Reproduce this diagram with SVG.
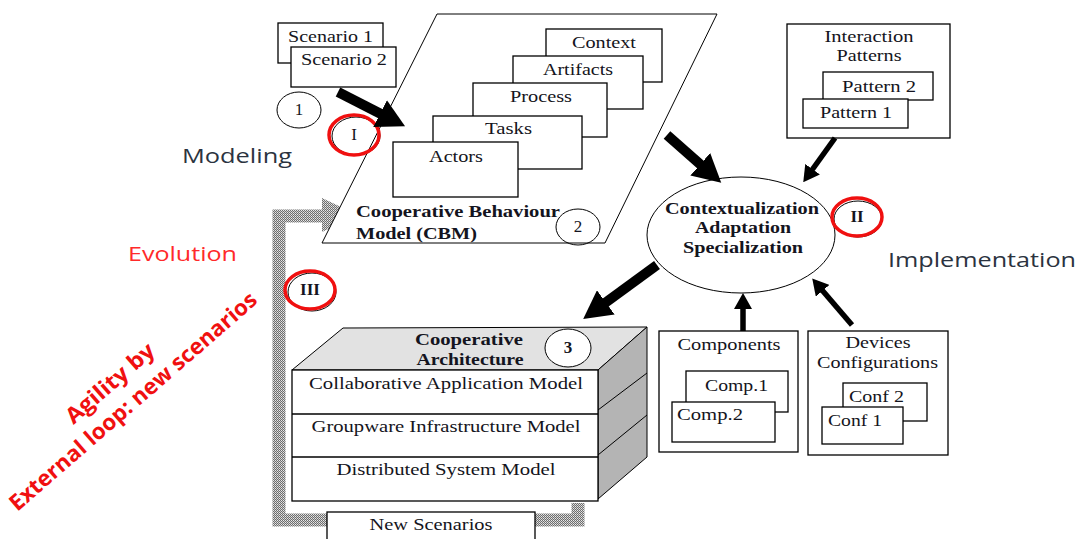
<svg xmlns="http://www.w3.org/2000/svg" width="1086" height="539" viewBox="0 0 1086 539">
<style>
.t{font-family:"Liberation Serif","Times New Roman",serif;font-size:17px;fill:#141420}
.b{font-weight:bold}
.m{text-anchor:middle}
.box{fill:#fff;stroke:#000;stroke-width:1.3}
.circ{fill:none;stroke:#000;stroke-width:1}
.red{fill:none;stroke:#f01010;stroke-width:3.5}
.s{font-family:"Open Sans","Noto Sans",sans-serif;font-size:20px}
.thick{stroke:#000;stroke-width:10;fill:none}
.med{stroke:#000;stroke-width:5.5;fill:none}
</style>
<defs>
<pattern id="chk" width="2" height="2" patternUnits="userSpaceOnUse">
<rect width="2" height="2" fill="#6e6e6e"/>
<rect x="1" y="0" width="1" height="1" fill="#e8e8e8"/>
<rect x="0" y="1" width="1" height="1" fill="#c8c8c8"/>
</pattern>
<marker id="hb" viewBox="0 0 28 30" markerWidth="28" markerHeight="30" refX="1" refY="15" orient="auto" markerUnits="userSpaceOnUse">
<path d="M0,0 L28,15 L0,30 Z" fill="#000"/>
</marker>
<marker id="hm" viewBox="0 0 16 18" markerWidth="16" markerHeight="18" refX="1" refY="9" orient="auto" markerUnits="userSpaceOnUse">
<path d="M0,0 L16,9 L0,18 Z" fill="#000"/>
</marker>
</defs>
<rect width="1086" height="539" fill="#fff"/>

<!-- external loop -->
<g id="loop">
<path d="M578,503 L578,520 L279,520 L279,216 L327,216" fill="none" stroke="url(#chk)" stroke-width="13"/>
<path d="M322,198 L358,215 L322,232 Z" fill="url(#chk)"/>
</g>

<!-- side labels -->
<g id="labels">
<text class="s" x="182" y="163" fill="#2b3340" textLength="110" lengthAdjust="spacingAndGlyphs">Modeling</text>
<text class="s" x="128" y="261" fill="#ff2a2a" textLength="109" lengthAdjust="spacingAndGlyphs">Evolution</text>
<text class="s" x="888" y="267" fill="#2b3340" textLength="188" lengthAdjust="spacingAndGlyphs">Implementation</text>
<g fill="#f01010" font-family="Open Sans, Noto Sans, sans-serif" font-weight="bold" font-size="22" text-anchor="middle">
<text transform="translate(115,389) rotate(-41)" textLength="110" lengthAdjust="spacingAndGlyphs">Agility by</text>
<text transform="translate(138,407) rotate(-41)" textLength="320" lengthAdjust="spacingAndGlyphs">External loop: new scenarios</text>
</g>
</g>

<!-- scenarios -->
<g id="scenarios">
<rect class="box" x="278" y="23" width="105" height="40"/>
<text class="t" x="288" y="42" textLength="85" lengthAdjust="spacingAndGlyphs">Scenario 1</text>
<rect class="box" x="291" y="47" width="105" height="40"/>
<text class="t" x="301" y="65" textLength="86" lengthAdjust="spacingAndGlyphs">Scenario 2</text>
<ellipse class="circ" cx="299" cy="110" rx="22" ry="18"/>
<text class="t m" x="299" y="115" font-size="14">1</text>
</g>

<!-- CBM -->
<g id="cbm">
<polygon points="437,14 717,14 605,243 322,243" fill="#fff" stroke="#000" stroke-width="1"/>
<rect class="box" x="546" y="29" width="116" height="53"/>
<text class="t" x="572" y="48" textLength="64" lengthAdjust="spacingAndGlyphs">Context</text>
<rect class="box" x="513" y="56" width="130" height="53"/>
<text class="t" x="543" y="75" textLength="70" lengthAdjust="spacingAndGlyphs">Artifacts</text>
<rect class="box" x="473" y="83" width="134" height="54"/>
<text class="t" x="510" y="102" textLength="62" lengthAdjust="spacingAndGlyphs">Process</text>
<rect class="box" x="433" y="116" width="149" height="53"/>
<text class="t" x="485" y="134" textLength="47" lengthAdjust="spacingAndGlyphs">Tasks</text>
<rect class="box" x="393" y="142" width="125" height="55"/>
<text class="t" x="429" y="162" textLength="54" lengthAdjust="spacingAndGlyphs">Actors</text>
<text class="t b" x="356" y="217" font-size="18" textLength="204" lengthAdjust="spacingAndGlyphs">Cooperative Behaviour</text>
<text class="t b" x="356" y="239" font-size="18" textLength="121" lengthAdjust="spacingAndGlyphs">Model (CBM)</text>
<ellipse class="circ" cx="578" cy="227" rx="22" ry="18"/>
<text class="t m" x="578" y="232" font-size="14">2</text>
</g>

<!-- phase markers -->
<g id="phaseI">
<ellipse class="circ" cx="356" cy="136" rx="24" ry="19"/>
<ellipse class="red" cx="354" cy="135" rx="25" ry="20"/>
<text class="t m" x="354" y="140" font-size="14">I</text>
</g>

<!-- central ellipse -->
<g id="adapt">
<ellipse cx="741" cy="235" rx="94" ry="58" fill="#fff" stroke="#000" stroke-width="1"/>
<text class="t b m" x="742" y="214" textLength="154" lengthAdjust="spacingAndGlyphs">Contextualization</text>
<text class="t b m" x="743" y="233" textLength="96" lengthAdjust="spacingAndGlyphs">Adaptation</text>
<text class="t b m" x="743" y="253" textLength="120" lengthAdjust="spacingAndGlyphs">Specialization</text>
</g>
<g id="phaseII">
<ellipse class="circ" cx="858" cy="219" rx="24" ry="18"/>
<ellipse class="red" cx="857" cy="217" rx="25" ry="19"/>
<text class="t b m" x="857" y="222" font-size="13">II</text>
</g>

<!-- interaction patterns -->
<g id="patterns">
<rect class="box" x="787" y="24" width="163" height="114"/>
<text class="t m" x="869" y="42" textLength="89" lengthAdjust="spacingAndGlyphs">Interaction</text>
<text class="t m" x="869" y="61" textLength="65" lengthAdjust="spacingAndGlyphs">Patterns</text>
<rect class="box" x="823" y="72" width="110" height="28"/>
<text class="t" x="842" y="92" textLength="74" lengthAdjust="spacingAndGlyphs">Pattern 2</text>
<rect class="box" x="803" y="99" width="105" height="29"/>
<text class="t" x="820" y="118" textLength="72" lengthAdjust="spacingAndGlyphs">Pattern 1</text>
</g>

<!-- cooperative architecture -->
<g id="arch">
<polygon points="292,370 343,328 647,327 598,370" fill="#e2e2e2" stroke="#000" stroke-width="1"/>
<polygon points="598,370 647,327 647,457 598,499" fill="#b4b4b4" stroke="#000" stroke-width="1"/>
<line x1="598" y1="410" x2="647" y2="373" stroke="#000" stroke-width="1"/>
<line x1="598" y1="455" x2="647" y2="415" stroke="#000" stroke-width="1"/>
<rect class="box" x="292" y="370" width="306" height="131"/>
<line x1="292" y1="414" x2="598" y2="414" stroke="#000" stroke-width="1.3"/>
<line x1="292" y1="457" x2="598" y2="457" stroke="#000" stroke-width="1.3"/>
<text class="t b m" x="469" y="345" textLength="108" lengthAdjust="spacingAndGlyphs">Cooperative</text>
<text class="t b m" x="470" y="365" textLength="107" lengthAdjust="spacingAndGlyphs">Architecture</text>
<ellipse cx="568" cy="348" rx="23" ry="19" fill="#fff" stroke="#000" stroke-width="1"/>
<text class="t b m" x="568" y="353" font-size="14">3</text>
<text class="t m" x="446" y="389" textLength="274" lengthAdjust="spacingAndGlyphs">Collaborative Application Model</text>
<text class="t m" x="446" y="432" textLength="269" lengthAdjust="spacingAndGlyphs">Groupware Infrastructure Model</text>
<text class="t m" x="446" y="475" textLength="219" lengthAdjust="spacingAndGlyphs">Distributed System Model</text>
</g>

<g id="newScenarios">
<rect class="box" x="327" y="512" width="208" height="30"/>
<text class="t m" x="431" y="530" textLength="123" lengthAdjust="spacingAndGlyphs">New Scenarios</text>
</g>

<g id="phaseIII">
<ellipse class="circ" cx="312" cy="292" rx="24" ry="19"/>
<ellipse class="red" cx="310" cy="290" rx="25" ry="19"/>
<text class="t b m" x="310" y="295" font-size="13">III</text>
</g>

<!-- components -->
<g id="components">
<rect class="box" x="659" y="331" width="139" height="121"/>
<text class="t m" x="729" y="350" textLength="103" lengthAdjust="spacingAndGlyphs">Components</text>
<rect class="box" x="686" y="371" width="102" height="41"/>
<text class="t" x="705" y="391" textLength="63" lengthAdjust="spacingAndGlyphs">Comp.1</text>
<rect class="box" x="672" y="402" width="103" height="40"/>
<text class="t" x="677" y="420" textLength="66" lengthAdjust="spacingAndGlyphs">Comp.2</text>
</g>

<!-- devices -->
<g id="devices">
<rect class="box" x="808" y="331" width="140" height="124"/>
<text class="t m" x="878" y="348" textLength="65" lengthAdjust="spacingAndGlyphs">Devices</text>
<text class="t" x="817" y="368" textLength="121" lengthAdjust="spacingAndGlyphs">Configurations</text>
<rect class="box" x="843" y="383" width="84" height="38"/>
<text class="t" x="849" y="402" textLength="55" lengthAdjust="spacingAndGlyphs">Conf 2</text>
<rect class="box" x="822" y="407" width="81" height="37"/>
<text class="t" x="828" y="426" textLength="54" lengthAdjust="spacingAndGlyphs">Conf 1</text>
</g>

<!-- connectors -->
<g id="connectors">
<line class="thick" x1="338" y1="92" x2="381" y2="114" marker-end="url(#hb)"/>
<line class="thick" x1="667" y1="135" x2="701" y2="165" marker-end="url(#hb)"/>
<line class="thick" x1="657" y1="265" x2="605" y2="303" marker-end="url(#hb)"/>
<line class="med" x1="835" y1="138" x2="812" y2="170" marker-end="url(#hm)"/>
<line class="med" x1="743" y1="331" x2="743" y2="308" stroke-width="7" marker-end="url(#hm)"/>
<line class="med" x1="852" y1="325" x2="822" y2="290" marker-end="url(#hm)"/>
</g>
</svg>
